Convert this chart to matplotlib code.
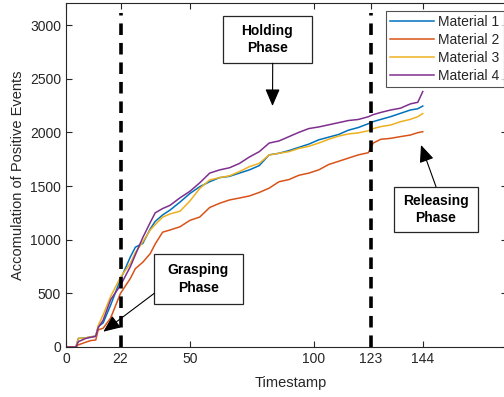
import matplotlib
matplotlib.use("Agg")
import matplotlib.pyplot as plt
from matplotlib.patches import Rectangle

plt.rcParams['font.family'] = ['Liberation Sans', 'DejaVu Sans']

t = [0, 2, 4, 5, 8, 10, 12, 13, 15, 18, 22, 26, 28, 31, 34, 36, 39, 42, 46, 50,
     54, 58, 62, 66, 70, 74, 78, 82, 86, 90, 94, 98, 102, 106, 110, 114, 118,
     122, 124, 127, 131, 135, 139, 142, 144]
material1 = [0, 0, 0, 80, 85, 95, 100, 190, 225, 390, 630, 840, 930, 965, 1100,
             1170, 1230, 1276, 1350, 1430, 1494, 1540, 1578, 1590, 1620, 1650,
             1690, 1790, 1805, 1830, 1860, 1890, 1930, 1955, 1980, 2020, 2045,
             2080, 2100, 2120, 2146, 2177, 2208, 2220, 2245]
material2 = [0, 0, 0, 20, 45, 60, 65, 160, 175, 270, 500, 640, 730, 790, 870,
             960, 1070, 1090, 1120, 1180, 1211, 1300, 1339, 1370, 1388, 1407,
             1440, 1480, 1540, 1560, 1600, 1620, 1650, 1700, 1730, 1760, 1790,
             1810, 1900, 1935, 1944, 1960, 1975, 1997, 2006]
material3 = [0, 0, 0, 80, 85, 95, 100, 200, 300, 470, 650, 780, 880, 980, 1090,
             1140, 1210, 1240, 1265, 1360, 1478, 1556, 1578, 1595, 1634, 1680,
             1711, 1790, 1805, 1820, 1850, 1870, 1900, 1935, 1965, 1985, 1995,
             2015, 2035, 2053, 2068, 2099, 2121, 2146, 2175]
material4 = [0, 0, 0, 50, 80, 90, 100, 180, 250, 440, 575, 750, 860, 1020, 1160,
             1250, 1290, 1320, 1390, 1450, 1530, 1620, 1650, 1670, 1710, 1770,
             1820, 1900, 1920, 1960, 2000, 2035, 2050, 2070, 2090, 2110, 2120,
             2145, 2165, 2185, 2208, 2225, 2265, 2280, 2380]
series_names = ['Material 1', 'Material 2', 'Material 3', 'Material 4']
colors = ['#0072BD', '#D95319', '#EDB120', '#7E2F8E']
phase_lines = [22, 123]
xticks = [0, 22, 50, 100, 123, 144]
yticks = [0, 500, 1000, 1500, 2000, 2500, 3000]

W, H = 504, 397
fig = plt.figure(figsize=(W / 100, H / 100), dpi=100)
ax = fig.add_axes([66 / W, 1 - 347 / H, (507 - 66) / W, (347 - 3) / H])

handles = []
for y, name, c in zip([material1, material2, material3, material4], series_names, colors):
    h, = ax.plot(t, y, color=c, lw=1.1, label=name)
    handles.append(h)

for xv in phase_lines:
    ax.plot([xv, xv], [0, 3110], color='black', lw=2.6, linestyle=(0, (3.2, 2.2)))

ax.set_xlim(0, 178)
ax.set_ylim(0, 3205)
ax.set_xticks(xticks)
ax.set_yticks(yticks)
ax.tick_params(direction='in', top=True, right=True, labelsize=10,
               colors='#262626', length=4, width=0.8)
for s in ax.spines.values():
    s.set_color('#262626')
    s.set_linewidth(0.8)

fig.text(291 / W, 1 - 383 / H, 'Timestamp', ha='center', va='center',
         fontsize=10.5, color='#262626')
fig.text(18 / W, 1 - 175 / H, 'Accomulation of Positive Events', ha='center',
         va='center', rotation=90, fontsize=10.5, color='#262626')

leg = fig.legend(handles=handles, loc='upper right',
                 bbox_to_anchor=(503.5 / W, 1 - 10.5 / H), fontsize=10,
                 frameon=True, fancybox=False, edgecolor='#262626',
                 handlelength=3.2, handletextpad=0.25, borderpad=0.3,
                 labelspacing=0.3, borderaxespad=0)
leg.get_frame().set_linewidth(0.8)
for txt in leg.get_texts():
    txt.set_color('#262626')

def px2fig(x, y):
    return x / W, 1 - y / H

def box(x0, y0, x1, y1, text):
    fx0, fy1 = px2fig(x0, y1)
    fig.patches.append(Rectangle((fx0, fy1), (x1 - x0) / W, (y1 - y0) / H,
                                 transform=fig.transFigure, facecolor='white',
                                 edgecolor='#262626', lw=0.9, zorder=5))
    cx, cy = px2fig((x0 + x1) / 2, (y0 + y1) / 2)
    fig.text(cx, cy, text, ha='center', va='center', fontsize=10,
             fontweight='bold', linespacing=1.35, zorder=6)

def arrow(tail, head):
    fig.add_artist(matplotlib.patches.FancyArrowPatch(
        px2fig(*tail), px2fig(*head), transform=fig.transFigure,
        arrowstyle='-|>,head_length=0.7,head_width=0.3', mutation_scale=15,
        color='black', lw=0.8, shrinkA=0, shrinkB=0, zorder=6))

box(222.7, 15.7, 312.3, 63.3, 'Holding\nPhase')
arrow((272.7, 63.3), (272.5, 106))
box(394, 186.7, 477.7, 232.3, 'Releasing\nPhase')
arrow((436, 186.7), (421, 145))
box(154.3, 254.3, 242.7, 304.3, 'Grasping\nPhase')
arrow((154.3, 293.3), (103.3, 331.7))

fig.savefig('out.png', dpi=100)
